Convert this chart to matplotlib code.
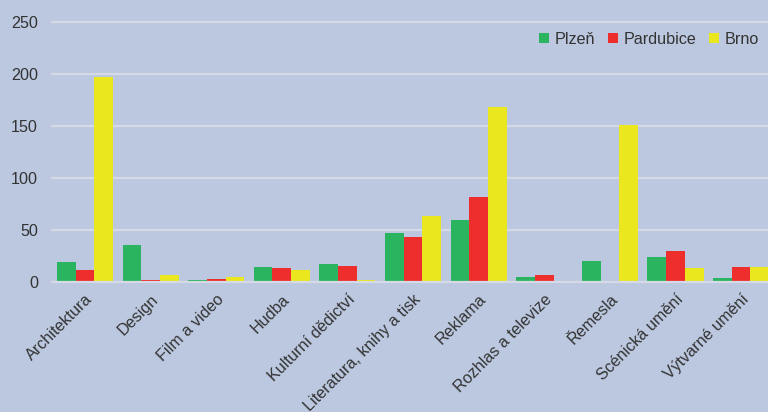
import matplotlib
matplotlib.use("Agg")
import matplotlib.pyplot as plt
import numpy as np

categories = ["Architektura", "Design", "Film a video", "Hudba", "Kulturní dědictví",
              "Literatura, knihy a tisk", "Reklama", "Rozhlas a televize", "Řemesla",
              "Scénická umění", "Výtvarné umění"]
series_names = ["Plzeň", "Pardubice", "Brno"]
plzen = [19, 36, 2, 14, 17, 47, 60, 5, 20, 24, 4]
pardubice = [12, 2, 3, 13, 15, 43, 82, 7, 0, 30, 14]
brno = [197, 7, 5, 12, 2, 63, 168, 1, 151, 13, 14]
y_ticks = [0, 50, 100, 150, 200, 250]

colors = ["#2BB45F", "#EE2E2C", "#EAE71F"]
bg = "#BBC8DF"
text_color = "#333333"
grid_color = "#D6DAE6"
fs = 11.6

plt.rcParams["font.family"] = ["Liberation Sans", "DejaVu Sans"]

fig = plt.figure(figsize=(7.68, 4.12), dpi=100, facecolor=bg)
ax = fig.add_axes([52 / 768, 130 / 412, 716 / 768, 260 / 412])
ax.set_facecolor(bg)

x = np.arange(len(categories))
w = 0.285
for i, (vals, name) in enumerate(zip([plzen, pardubice, brno], series_names)):
    ax.bar(x + (i - 1) * w, vals, width=w, color=colors[i], label=name,
           zorder=3, linewidth=0)

ax.set_ylim(0, 250)
ax.set_xlim(-0.503, 10.41)
ax.set_yticks(y_ticks)
for t in y_ticks:
    ax.axhline(t, color=grid_color, linewidth=1.6, zorder=1 if t else 4, clip_on=False)

ax.set_xticks(x)
ax.set_xticklabels(categories, rotation=45, ha="right", rotation_mode="anchor",
                   fontsize=fs, color=text_color)
ax.tick_params(axis="both", length=0, labelsize=fs, labelcolor=text_color)
ax.tick_params(axis="y", pad=10)
ax.tick_params(axis="x", pad=7)
for s in ax.spines.values():
    s.set_visible(False)

leg = ax.legend(loc="upper right", bbox_to_anchor=(1.008, 1.018), ncol=3, frameon=False,
                fontsize=fs, handlelength=0.6, handleheight=0.6, handletextpad=0.37,
                columnspacing=0.8, labelcolor=text_color)

fig.savefig("out.png", dpi=100, facecolor=bg)
